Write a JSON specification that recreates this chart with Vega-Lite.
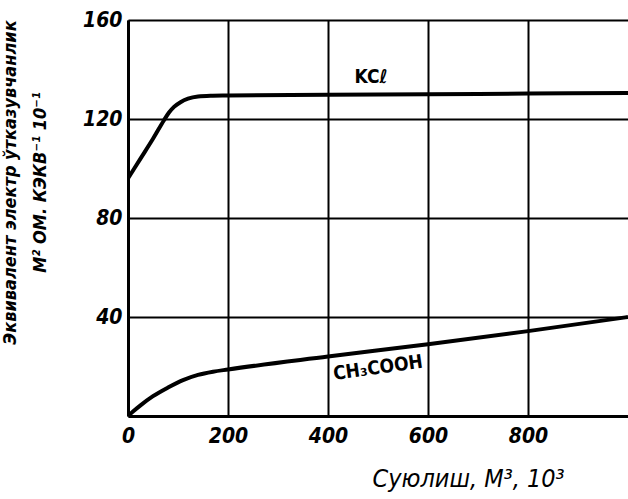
{
  "$schema": "https://vega.github.io/schema/vega-lite/v6.json",
  "width": 500,
  "height": 396,
  "autosize": {"type": "none"},
  "padding": {"left": 128, "top": 20, "right": 0, "bottom": 83},
  "background": "white",
  "config": {
    "view": {"stroke": null},
    "axis": {
      "labelFont": "DejaVu Sans Condensed",
      "labelFontStyle": "italic",
      "labelFontWeight": "bold",
      "labelFontSize": 21,
      "labelColor": "black",
      "titleFont": "DejaVu Sans Condensed",
      "titleFontStyle": "italic",
      "titleFontWeight": "normal",
      "titleColor": "black",
      "gridColor": "black",
      "gridOpacity": 1,
      "gridWidth": 2,
      "domainColor": "black",
      "domainWidth": 3,
      "ticks": false
    }
  },
  "datasets": {
    "curves": [
      {"series": "KCl", "x": 0, "y": 96},
      {"series": "KCl", "x": 25, "y": 104},
      {"series": "KCl", "x": 50, "y": 112},
      {"series": "KCl", "x": 72, "y": 119.5},
      {"series": "KCl", "x": 82, "y": 122.6},
      {"series": "KCl", "x": 92, "y": 124.9},
      {"series": "KCl", "x": 105, "y": 126.8},
      {"series": "KCl", "x": 120, "y": 128.2},
      {"series": "KCl", "x": 140, "y": 129.1},
      {"series": "KCl", "x": 165, "y": 129.4},
      {"series": "KCl", "x": 200, "y": 129.5},
      {"series": "KCl", "x": 400, "y": 129.8},
      {"series": "KCl", "x": 600, "y": 130},
      {"series": "KCl", "x": 800, "y": 130.3},
      {"series": "KCl", "x": 1000, "y": 130.5},
      {"series": "CH3COOH", "x": 0, "y": 0},
      {"series": "CH3COOH", "x": 10, "y": 1.8},
      {"series": "CH3COOH", "x": 25, "y": 4.3},
      {"series": "CH3COOH", "x": 50, "y": 8},
      {"series": "CH3COOH", "x": 80, "y": 11.5},
      {"series": "CH3COOH", "x": 110, "y": 14.5},
      {"series": "CH3COOH", "x": 140, "y": 16.6},
      {"series": "CH3COOH", "x": 170, "y": 17.9},
      {"series": "CH3COOH", "x": 200, "y": 18.8},
      {"series": "CH3COOH", "x": 400, "y": 24},
      {"series": "CH3COOH", "x": 600, "y": 29},
      {"series": "CH3COOH", "x": 800, "y": 34.3},
      {"series": "CH3COOH", "x": 1000, "y": 40}
    ],
    "labels": [
      {"text": "KCℓ", "x": 486, "y": 137, "angle": 0},
      {"text": "CH₃COOH", "x": 500, "y": 19.5, "angle": -8}
    ]
  },
  "layer": [
    {
      "data": {"name": "curves"},
      "mark": {"type": "line", "color": "black", "strokeWidth": 4, "interpolate": "monotone", "clip": true},
      "encoding": {
        "x": {
          "field": "x", "type": "quantitative",
          "scale": {"domain": [0, 1000], "nice": false},
          "axis": {
            "values": [0, 200, 400, 600, 800],
            "grid": true,
            "labelPadding": 9,
            "labelAlign": "center",
            "title": "Суюлиш, М³, 10³",
            "titleFontSize": 25,
            "titleX": 340,
            "titleY": 62,
            "titleAlign": "center",
            "titleBaseline": "middle"
          }
        },
        "y": {
          "field": "y", "type": "quantitative",
          "scale": {"domain": [0, 160], "nice": false},
          "axis": {
            "values": [0, 40, 80, 120, 160],
            "grid": true,
            "labelExpr": "datum.value == 0 ? '' : datum.label",
            "labelPadding": 6,
            "title": ["Эквивалент электр ўтказувчанлик", "М² ОМ. КЭКВ⁻¹ 10⁻¹"],
            "titleFontSize": 18,
            "titleFontWeight": "bold",
            "titleLineHeight": 30,
            "titleAngle": -90,
            "titleX": -127,
            "titleY": 162,
            "titleAlign": "center",
            "titleBaseline": "top"
          }
        },
        "detail": {"field": "series"}
      }
    },
    {
      "data": {"name": "labels"},
      "mark": {"type": "text", "font": "DejaVu Sans Condensed", "fontWeight": "bold", "fontSize": 19, "color": "black"},
      "encoding": {
        "x": {"field": "x", "type": "quantitative"},
        "y": {"field": "y", "type": "quantitative"},
        "text": {"field": "text"},
        "angle": {"field": "angle", "type": "quantitative", "scale": null}
      }
    }
  ]
}
